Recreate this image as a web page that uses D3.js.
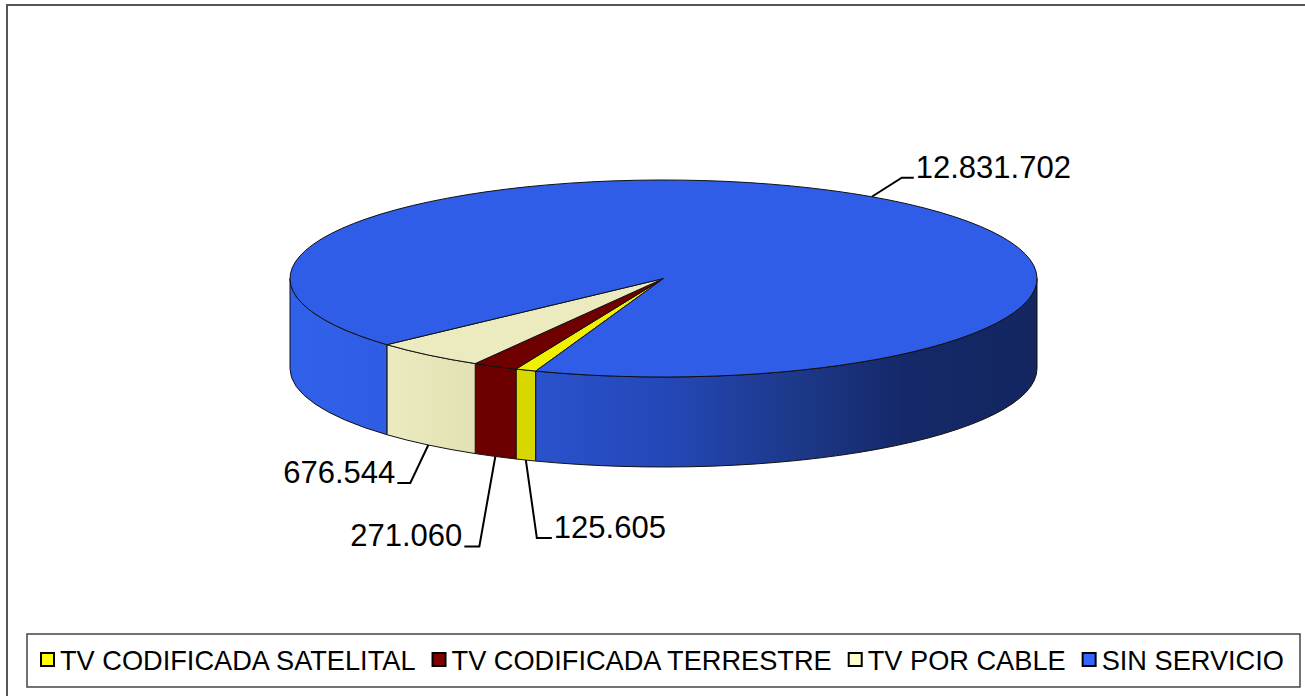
<!DOCTYPE html>
<html>
<head>
<meta charset="utf-8">
<script src="https://cdn.jsdelivr.net/npm/d3@7"></script>
<style>
  body { margin: 0; background: #fff; }
  svg { display: block; font-family: "Liberation Sans", Arial, sans-serif; }
</style>
</head>
<body>
<svg id="chart" width="1305" height="696"></svg>
<script>
// data
const categories = ["TV CODIFICADA SATELITAL", "TV CODIFICADA TERRESTRE", "TV POR CABLE", "SIN SERVICIO"];
const values = [125605, 271060, 676544, 12831702];
const topColors = ["#f0f000", "#700000", "#ecebc0", "#2f5de8"];
const legendColors = ["#ffff00", "#800000", "#ffffcc", "#3366ff"];
const sideStops = [
    [[0, "#d8d800"], [1, "#d8d800"]],
    [[0, "#6c0000"], [1, "#6c0000"]],
    [[0, "#eeeec4"], [0.13, "#ebebc0"], [0.25, "#e2e1b3"], [1, "#c0bf95"]],
    [[0, "#3161ea"], [0.15, "#2e5ce4"], [0.33, "#2a52cc"], [0.5, "#2448b8"],
     [0.68, "#1c3888"], [0.82, "#15296a"], [1, "#132660"]]
];
// leader layout: elbow offset from the anchor, then a short horizontal run
const labelLayout = [
    { dx: 11, dy: 78, run: 15 },
    { dx: -16, dy: 90, run: -15 },
    { dx: -18, dy: 38, run: -13 },
    { dx: 30, dy: -19, run: 12 }
];

const width = 1305, height = 696;
const cx = 663.5, cy = 278.5, rx = 373.5, ry = 98.5, depth = 90;

const svg = d3.select("#chart");
const defs = svg.append("defs");

const fmt = d3.formatLocale({ decimal: ",", thousands: ".", grouping: [3], currency: ["", ""] }).format(",d");

// outer frame
svg.append("rect")
    .attr("x", 7).attr("y", 5)
    .attr("width", 1310).attr("height", 700)
    .attr("fill", "none").attr("stroke", "#555").attr("stroke-width", 2);

const pie = d3.pie()
    .sort(null)
    .startAngle(200 * Math.PI / 180)
    .endAngle(200 * Math.PI / 180 + 2 * Math.PI);

const arcs = pie(values);

function P(a, z) {
    return [cx + rx * Math.sin(a), cy - ry * Math.cos(a) + (z || 0)];
}

function topPath(a0, a1) {
    const p0 = P(a0), p1 = P(a1);
    const large = (a1 - a0) > Math.PI ? 1 : 0;
    return `M${cx},${cy}L${p0}A${rx},${ry} 0 ${large} 1 ${p1}Z`;
}

function sidePath(a0, a1) {
    const p0 = P(a0), p1 = P(a1), q0 = P(a0, depth), q1 = P(a1, depth);
    return `M${p0}A${rx},${ry} 0 0 1 ${p1}L${q1}A${rx},${ry} 0 0 0 ${q0}Z`;
}

// gradients for the walls
sideStops.forEach((stops, i) => {
    const g = defs.append("linearGradient")
        .attr("id", "side" + i)
        .attr("gradientUnits", "userSpaceOnUse")
        .attr("x1", cx - rx).attr("x2", cx + rx)
        .attr("y1", 0).attr("y2", 0);
    g.selectAll("stop").data(stops).enter().append("stop")
        .attr("offset", d => d[0])
        .attr("stop-color", d => d[1]);
});

// visible wall pieces (front half: 90..270 deg)
const pieces = [];
arcs.forEach((d, i) => {
    for (let k = 0; k < 3; k++) {
        const lo = Math.PI / 2 + k * 2 * Math.PI, hi = 3 * Math.PI / 2 + k * 2 * Math.PI;
        const a0 = Math.max(d.startAngle, lo), a1 = Math.min(d.endAngle, hi);
        if (a1 > a0) pieces.push({ i: i, a0: a0, a1: a1 });
    }
});

const pieG = svg.append("g");

pieG.selectAll("path.side")
    .data(pieces)
    .enter().append("path")
    .attr("class", "side")
    .attr("d", d => sidePath(d.a0, d.a1))
    .attr("fill", d => `url(#side${d.i})`)
    .attr("stroke", "#111")
    .attr("stroke-width", 1)
    .attr("stroke-linejoin", "round");

pieG.selectAll("path.top")
    .data(arcs)
    .enter().append("path")
    .attr("class", "top")
    .attr("d", d => topPath(d.startAngle, d.endAngle))
    .attr("fill", (d, i) => topColors[i])
    .attr("stroke", "#111")
    .attr("stroke-width", 1)
    .attr("stroke-linejoin", "round");

// data labels with leader lines
const labelG = svg.append("g");
arcs.forEach((d, i) => {
    const mid = (d.startAngle + d.endAngle) / 2;
    const front = Math.cos(mid) < 0;
    const anchor = P(mid, front ? depth : 0);
    const L = labelLayout[i];
    const elbow = [anchor[0] + L.dx, anchor[1] + L.dy];
    const end = [elbow[0] + L.run, elbow[1]];
    labelG.append("path")
        .attr("d", `M${anchor}L${elbow}L${end}`)
        .attr("fill", "none")
        .attr("stroke", "#000")
        .attr("stroke-width", 2);
    labelG.append("text")
        .attr("x", end[0] + (L.run > 0 ? 2 : -2))
        .attr("y", end[1])
        .attr("text-anchor", L.run > 0 ? "start" : "end")
        .attr("font-size", 31)
        .attr("fill", "#000")
        .text(fmt(d.data));
});

// legend
const legend = svg.append("g");
legend.append("rect")
    .attr("x", 27).attr("y", 634)
    .attr("width", 1273).attr("height", 53)
    .attr("fill", "#fff").attr("stroke", "#444").attr("stroke-width", 1.5);

let lx = 41;
categories.forEach((c, i) => {
    legend.append("rect")
        .attr("x", lx).attr("y", 653)
        .attr("width", 13).attr("height", 13)
        .attr("fill", legendColors[i])
        .attr("stroke", "#000").attr("stroke-width", 2);
    const t = legend.append("text")
        .attr("x", lx + 19).attr("y", 670)
        .attr("font-size", 27.2)
        .attr("fill", "#000")
        .text(c);
    lx += 19 + t.node().getComputedTextLength() + 17;
});
</script>
</body>
</html>
